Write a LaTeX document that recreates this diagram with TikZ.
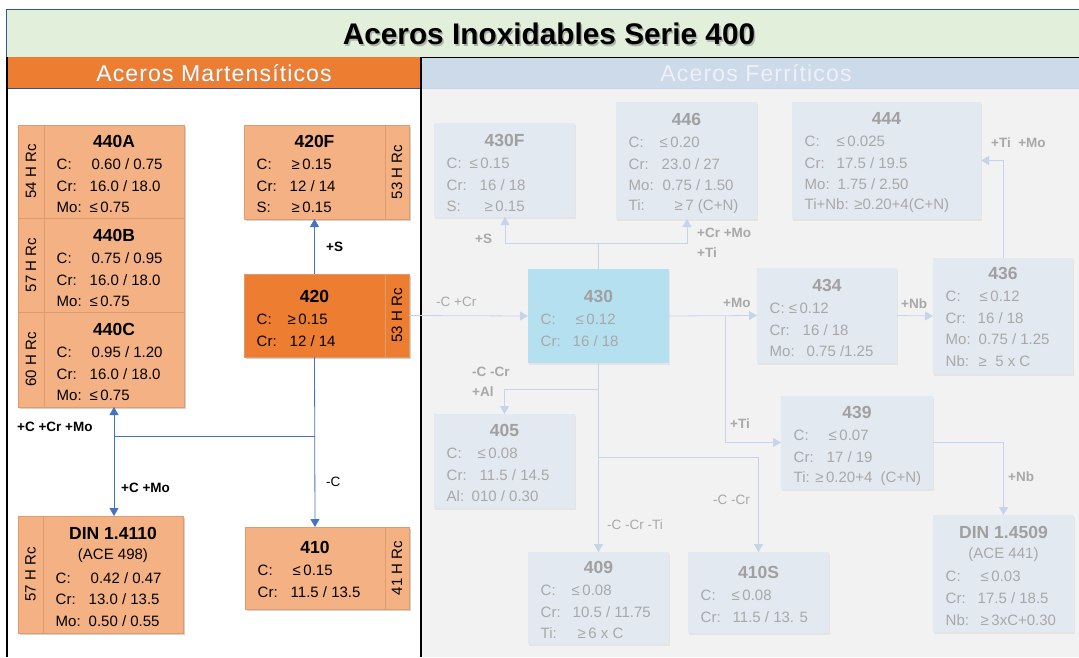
\documentclass[tikz,border=0pt]{standalone}
\usepackage{fontspec}
\setmainfont{Liberation Sans}
\usetikzlibrary{arrows.meta,shadows,calc,fit}

\definecolor{lor}{HTML}{F4B183}
\definecolor{dor}{HTML}{ED7D31}
\definecolor{lorline}{HTML}{DE9C6E}
\definecolor{ttlbg}{HTML}{E2EFDA}
\definecolor{ttlbd}{HTML}{2F5597}
\definecolor{fhdr}{HTML}{CCDAE9}
\definecolor{fhtxt}{HTML}{EEF2F8}
\definecolor{fpanel}{HTML}{F2F2F2}
\definecolor{fbox}{HTML}{E3E9F0}
\definecolor{fcyan}{HTML}{B5E0EF}
\definecolor{ftxt}{HTML}{A8A8A8}
\definecolor{fttl}{HTML}{A0A0A0}
\definecolor{fline}{HTML}{C5D4EA}
\definecolor{mline}{HTML}{4472C4}

\newcommand\lb[2]{\makebox[#1pt][l]{#2}}
\def\rstart{1}
% #1 name #2 style #3 x1 #4 y1 #5 x2 #6 y2 #7 title #8 title offset #9 rows
\newcommand\stl[9]{%
  \node[#2, fit={(#3,#4)(#5,#6)}] (#1) {};
  \node[boxttl] (#1-t) at ($(#1.north)+(0,#8)$) {#7};
  \foreach \rw [count=\i from \rstart] in {#9}
    \node[boxrow, anchor=west] (#1-r\i) at ($(#1.north west)+(12.5,#8+23+21.7*\i-21.7)$) {\rw};
}

\tikzset{
  x=1pt, y=-1pt,
  mcell/.style={draw=lorline, line width=0.5pt, fill=lor, inner sep=0pt, outer sep=0pt,
    drop shadow={shadow xshift=1.5pt, shadow yshift=-2pt, opacity=0.35}},
  dcell/.style={mcell, fill=dor},
  fcell/.style={fill=fbox, inner sep=0pt, outer sep=0pt,
    drop shadow={shadow xshift=1pt, shadow yshift=-1.5pt, opacity=0.12}},
  ccell/.style={fcell, fill=fcyan},
  boxttl/.style={font=\fontsize{17.5}{20}\selectfont\bfseries, inner sep=0pt},
  boxrow/.style={font=\fontsize{15}{18}\selectfont, inner sep=0pt},
  rot/.style={rotate=90, font=\fontsize{15}{18}\selectfont, inner sep=0pt},
  mcon/.style={draw=mline, line width=0.8pt},
  fcon/.style={draw=fline, line width=0.8pt},
  tip/.style={-{Triangle[length=8pt,width=9pt]}},
  mlab/.style={font=\fontsize{13.5}{16}\selectfont\bfseries, inner sep=0pt, anchor=west},
  mlabr/.style={font=\fontsize{13.5}{16}\selectfont, inner sep=0pt, anchor=west},
  flab/.style={mlab, text=ftxt},
  flabr/.style={mlabr, text=ftxt},
  hdrfont/.style={font=\fontsize{23}{27}\selectfont\addfontfeature{LetterSpace=5}},
}

\begin{document}
\begin{tikzpicture}
\useasboundingbox (0,0) rectangle (1079,657);
\fill[white] (0,0) rectangle (1079,657);

% ---------- frame ----------
\node[fill=ttlbg, inner sep=0pt, fit={(7,10)(1079,57)}] (band) {};
\node[text=black!45, opacity=0.6, font=\fontsize{29.8}{34}\selectfont\bfseries] (ttlsh) at (550.5,35.5) {Aceros Inoxidables Serie 400};
\node[font=\fontsize{29.8}{34}\selectfont\bfseries] (ttl) at (549,34) {Aceros Inoxidables Serie 400};
\node[fill=dor, inner sep=0pt, fit={(7,57)(421,88)}] (mh) {};
\node[fill=fhdr, inner sep=0pt, fit={(421,57)(1079,88)}] (fh) {};
\node[fill=white, inner sep=0pt, fit={(7,88)(421,657)}] (mp) {};
\node[fill=fpanel, inner sep=0pt, fit={(421,88)(1079,657)}] (fp) {};
\node[text=black!40, opacity=0.5, hdrfont] (mhsh) at (215,74) {Aceros Martensíticos};
\node[text=white, hdrfont] (mht) at (214,73) {Aceros Martensíticos};
\node[text=fhtxt, hdrfont] (fht) at (756,73) {Aceros Ferríticos};
\draw[ttlbd, line width=1.2pt] (band.south west) -- (band.north west) -- (band.north east);
\draw[black, line width=1pt] (421,57) -- (1079,57);
\draw[ttlbd, line width=0.8pt] (7,88) -- (421,88);
\draw[fline, line width=0.8pt] (421,88) -- (1079,88);
\draw[black, line width=1.5pt] (7,57) -- (7,657);
\draw[black, line width=1.5pt] (421,57) -- (421,657);

% ---------- martensitic ----------
\node[mcell, fit={(18,125)(44,218)}] (c440a) {};
\node[rot] (c440a-l) at (c440a.center) {54 H Rc};
\stl{b440a}{mcell}{44}{125}{184}{218}{440A}{16}{{\lb{35}{C:}0.60 / 0.75},{\lb{33}{Cr:}16.0 / 18.0},{\lb{33}{Mo:}≤\,0.75}}
\node[mcell, fit={(18,218)(44,312)}] (c440b) {};
\node[rot] (c440b-l) at (c440b.center) {57 H Rc};
\stl{b440b}{mcell}{44}{218}{184}{312}{440B}{17}{{\lb{35}{C:}0.75 / 0.95},{\lb{33}{Cr:}16.0 / 18.0},{\lb{33}{Mo:}≤\,0.75}}
\node[mcell, fit={(18,312)(44,407)}] (c440c) {};
\node[rot] (c440c-l) at (c440c.center) {60 H Rc};
\stl{b440c}{mcell}{44}{312}{184}{407}{440C}{17}{{\lb{35}{C:}0.95 / 1.20},{\lb{33}{Cr:}16.0 / 18.0},{\lb{33}{Mo:}≤\,0.75}}

\stl{b420f}{mcell}{244}{125}{385}{219}{420F}{16}{{\lb{35}{C:}≥\,0.15},{\lb{33}{Cr:}12 / 14},{\lb{35}{S:}≥\,0.15}}
\node[mcell, fit={(385,125)(409,219)}] (c420f) {};
\node[rot] (c420f-l) at (c420f.center) {53 H Rc};

\stl{b420}{dcell}{244}{274}{385}{357}{420}{22}{{\lb{31}{C:}≥\,0.15},{\lb{33}{Cr:}12 / 14}}
\node[dcell, fit={(385,274)(409,357)}] (c420) {};
\node[rot] (c420-l) at (c420.center) {53 H Rc};

\node[mcell, fit={(18,516)(43,633)}] (cdin1) {};
\node[rot] (cdin1-l) at (cdin1.center) {57 H Rc};
\def\rstart{2}
\stl{bdin1}{mcell}{43}{516}{183}{633}{DIN 1.4110}{17}{{\lb{35}{C:}0.42 / 0.47},{\lb{33}{Cr:}13.0 / 13.5},{\lb{33}{Mo:}0.50 / 0.55}}
\def\rstart{1}
\node[boxrow] (bdin1-a) at ($(bdin1.north)+(0,40)$) {(ACE 498)};

\stl{b410}{mcell}{245}{527}{385}{609}{410}{20}{{\lb{35}{C:}≤\,0.15},{\lb{33}{Cr:}11.5 / 13.5}}
\node[mcell, fit={(385,527)(409,609)}] (c410) {};
\node[rot] (c410-l) at (c410.center) {41 H Rc};

\coordinate (j1) at (114,436);
\coordinate (j2) at (b420.south |- j1);
\draw[mcon, tip] (b420.north) -- (b420f.south);
\draw[mcon, tip] (b420.south) -- (b410.north);
\draw[mcon] (j1) -- (j2);
\draw[mcon, tip] (j1) -- (j1 |- b440c.south);
\draw[mcon, tip] (j1) -- (j1 |- bdin1.north);
\node[mlab] (l1) at (326,247) {+S};
\node[mlab] (l2) at (17,427) {+C +Cr +Mo};
\node[mlab] (l3) at (121,488) {+C +Mo};
\node[mlabr] (l4) at (326,482) {-C};

% ---------- ferritic ----------
\begin{scope}[boxttl/.append style={text=fttl}, boxrow/.append style={text=ftxt}]
\stl{b430f}{fcell}{434}{123}{575}{217}{430F}{17}{{\lb{23}{C:}≤\,0.15},{\lb{33}{Cr:}16 / 18},{\lb{38}{S:}≥\,0.15}}
\stl{b446}{fcell}{616}{102}{757}{219}{446}{17}{{\lb{31}{C:}≤\,0.20},{\lb{33}{Cr:}23.0 / 27},{\lb{34}{Mo:}0.75 / 1.50},{\lb{46}{Ti:}≥\,7 (C+N)}}
\stl{b444}{fcell}{792}{102}{981}{219}{444}{16}{{\lb{32}{C:}≤\,0.025},{\lb{32}{Cr:}17.5 / 19.5},{\lb{33}{Mo:}1.75 / 2.50},{Ti+Nb: ≥0.20+4(C+N)}}
\stl{b430}{ccell}{528}{269}{669}{363}{430}{27}{{\lb{35}{C:}≤\,0.12},{\lb{32}{Cr:}16 / 18}}
\stl{b434}{fcell}{757}{268}{897}{363}{434}{17}{{C: ≤\,0.12},{\lb{33}{Cr:}16 / 18},{\lb{37}{Mo:}0.75 /1.25}}
\stl{b436}{fcell}{933}{258}{1073}{374}{436}{15}{{\lb{34}{C:}≤\,0.12},{\lb{32}{Cr:}16 / 18},{\lb{33}{Mo:}0.75 / 1.25},{\lb{33}{Nb:}≥\ \ 5 x C}}
\stl{b405}{fcell}{434}{414}{575}{508}{405}{16}{{\lb{31}{C:}≤\,0.08},{\lb{33}{Cr:}11.5 / 14.5},{\lb{25}{Al:}010 / 0.30}}
\stl{b439}{fcell}{781}{396}{933}{489}{439}{16}{{\lb{35}{C:}≤\,0.07},{\lb{33}{Cr:}17 / 19},{Ti: ≥\,0.20+4\ \ (C+N)}}
\stl{b409}{fcell}{528}{552}{669}{644}{409}{15}{{\lb{31}{C:}≤\,0.08},{\lb{32}{Cr:}10.5 / 11.75},{\lb{37}{Ti:}≥\,6 x C}}
\stl{b410s}{fcell}{688}{552}{829}{633}{410S}{20}{{\lb{31}{C:}≤\,0.08},{\lb{32}{Cr:}11.5 / 13. 5}}
\def\rstart{2}
\stl{bdin2}{fcell}{933}{515}{1074}{632}{DIN 1.4509}{17}{{\lb{35}{C:}≤\,0.03},{\lb{32}{Cr:}17.5 / 18.5},{\lb{35}{Nb:}≥\,3xC+0.30}}
\def\rstart{1}
\node[boxrow] (bdin2-a) at ($(bdin2.north)+(0,40)$) {(ACE 441)};
\end{scope}

\draw[fcon, tip] (c420.east) -- (b430.west);
\coordinate (f1) at (b430.north |- 0,243);
\coordinate (f1l) at (505,243);
\coordinate (f1r) at (687,243);
\draw[fcon] (b430.north) -- (f1);
\draw[fcon, tip] (f1) -- (f1l) -- (f1l |- b430f.south);
\draw[fcon, tip] (f1) -- (f1r) -- (f1r |- b446.south);
\draw[fcon, tip] (b430.east) -- (b434.west);
\coordinate (f2) at (725,316);
\draw[fcon, tip] (f2) |- (b439.west);
\draw[fcon, tip] (b434.east) -- (b436.west);
\draw[fcon, tip] (b436.north) |- (b444.east);
\draw[fcon, tip] (b439.east) -| (bdin2.north);
\coordinate (f3) at (b430.south |- 0,389);
\draw[fcon, tip] (f3) -| (b405.north);
\draw[fcon, tip] (b430.south) -- (b409.north);
\coordinate (f4) at (b430.south |- 0,457);
\coordinate (f4r) at (b410s.north |- 0,457);
\draw[fcon, tip] (f4) -- (f4r) -- (b410s.north);

\node[flabr] (k1) at (436,302) {-C +Cr};
\node[flab] (k2) at (475,239) {+S};
\node[flab] (k3) at (697,233) {+Cr +Mo};
\node[flab] (k4) at (697,253) {+Ti};
\node[flab] (k5) at (723,303) {+Mo};
\node[flab] (k6) at (901,304) {+Nb};
\node[flab] (k7) at (991,143) {+Ti\ \ +Mo};
\node[flab] (k8) at (730,424) {+Ti};
\node[flab] (k9) at (472,372) {-C -Cr};
\node[flab] (k10) at (472,392) {+Al};
\node[flabr] (k11) at (607,525) {-C -Cr -Ti};
\node[flabr] (k12) at (713,500) {-C -Cr};
\node[flab] (k13) at (1008,477) {+Nb};
\end{tikzpicture}
\end{document}
